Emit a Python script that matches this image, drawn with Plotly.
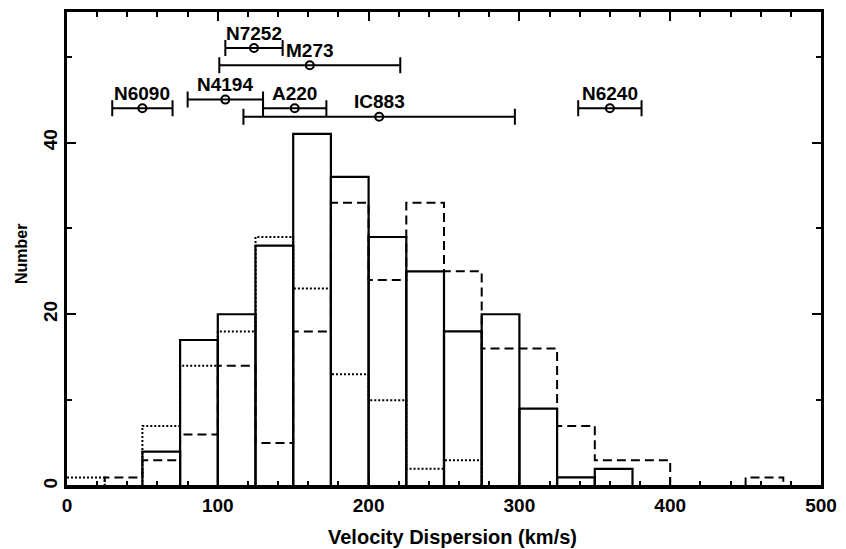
import plotly.graph_objects as go

# Histogram bins (left edges, width 25 km/s)
bin_left = [0, 25, 50, 75, 100, 125, 150, 175, 200, 225, 250, 275, 300, 325, 350, 375, 400, 425, 450, 475]
bin_width = 25

solid_counts = [0, 0, 4, 17, 20, 28, 41, 36, 29, 25, 18, 20, 9, 1, 2, 0, 0, 0, 0, 0]
dashed_counts = [0, 1, 3, 6, 14, 5, 18, 33, 24, 33, 25, 16, 16, 7, 3, 3, 0, 0, 1, 0]
dotted_counts = [1, 0, 7, 14, 18, 29, 23, 13, 10, 2, 3, 0, 0, 0, 0, 0, 0, 0, 0, 0]

# Individual galaxies with ranges
gal_names = ["N6090", "N4194", "A220", "N7252", "M273", "IC883", "N6240"]
gal_sigma = [50, 105, 151, 124, 161, 207, 360]
gal_low = [30, 80, 130, 105, 101, 117, 339]
gal_high = [70, 130, 172, 143, 221, 297, 381]
gal_y = [44, 45, 44, 51, 49, 43, 44]

FONT = "Liberation Sans"
fig = go.Figure()

centers = [b + bin_width / 2 for b in bin_left]
fig.add_trace(go.Bar(
    x=centers, y=solid_counts, width=bin_width,
    marker=dict(color="rgba(0,0,0,0)", line=dict(color="black", width=2.2)),
    showlegend=False, hoverinfo="skip"))

edges_x = bin_left + [bin_left[-1] + bin_width]
fig.add_trace(go.Scatter(
    x=edges_x, y=dashed_counts + [0], mode="lines", line_shape="hv",
    line=dict(color="black", width=2, dash="9px,5px"), showlegend=False))
fig.add_trace(go.Scatter(
    x=edges_x, y=dotted_counts + [0], mode="lines", line_shape="hv",
    line=dict(color="black", width=2, dash="2px,2px"), showlegend=False))

fig.add_trace(go.Scatter(
    x=gal_sigma, y=gal_y, mode="markers",
    marker=dict(symbol="circle-open", size=8, color="black", line=dict(width=2)),
    error_x=dict(type="data", symmetric=False,
                 array=[h - s for h, s in zip(gal_high, gal_sigma)],
                 arrayminus=[s - l for s, l in zip(gal_sigma, gal_low)],
                 color="black", thickness=2, width=8),
    showlegend=False))

for n, s, y in zip(gal_names, gal_sigma, gal_y):
    fig.add_annotation(x=s, y=y, text="<b>%s</b>" % n, showarrow=False, yanchor="middle",
                       yshift=15, font=dict(family=FONT, size=19, color="black"))

fig.add_annotation(xref="paper", yref="paper", x=0.5, xshift=8, y=0, yshift=-51,
                   text="<b>Velocity Dispersion (km/s)</b>", showarrow=False,
                   yanchor="middle", font=dict(family=FONT, size=20, color="black"))
fig.add_annotation(xref="paper", yref="paper", x=0, xshift=-46, y=0.5, yshift=-5,
                   text="<b>Number</b>", textangle=-90, showarrow=False,
                   xanchor="center", font=dict(family=FONT, size=16, color="black"))

fig.update_layout(
    width=846, height=549,
    margin=dict(l=67, r=18, t=9, b=63),
    paper_bgcolor="white", plot_bgcolor="white",
    barmode="overlay",
    font=dict(family=FONT, size=19, color="black"),
    xaxis=dict(range=[0, 500], tickvals=[0, 100, 200, 300, 400, 500],
               ticktext=["<b>0</b>", "<b>100</b>", "<b>200</b>", "<b>300</b>", "<b>400</b>", "<b>500</b>"],
               ticks="inside", ticklen=9, tickwidth=2, tickcolor="black",
               minor=dict(dtick=20, ticks="inside", ticklen=5, tickwidth=2, tickcolor="black"),
               showline=True, linewidth=2.5, linecolor="black", mirror="allticks",
               showgrid=False, zeroline=False, tickfont=dict(size=19)),
    yaxis=dict(range=[0, 55.2], tickvals=[0, 20, 40],
               ticktext=["<b>0</b>", "<b>20</b>", "<b>40</b>"], tickangle=-90,
               ticks="inside", ticklen=9, tickwidth=2, tickcolor="black",
               minor=dict(dtick=10, ticks="inside", ticklen=5, tickwidth=2, tickcolor="black"),
               showline=True, linewidth=2.5, linecolor="black", mirror="allticks",
               showgrid=False, zeroline=False, tickfont=dict(size=19)),
)

fig.write_html("out.html")
